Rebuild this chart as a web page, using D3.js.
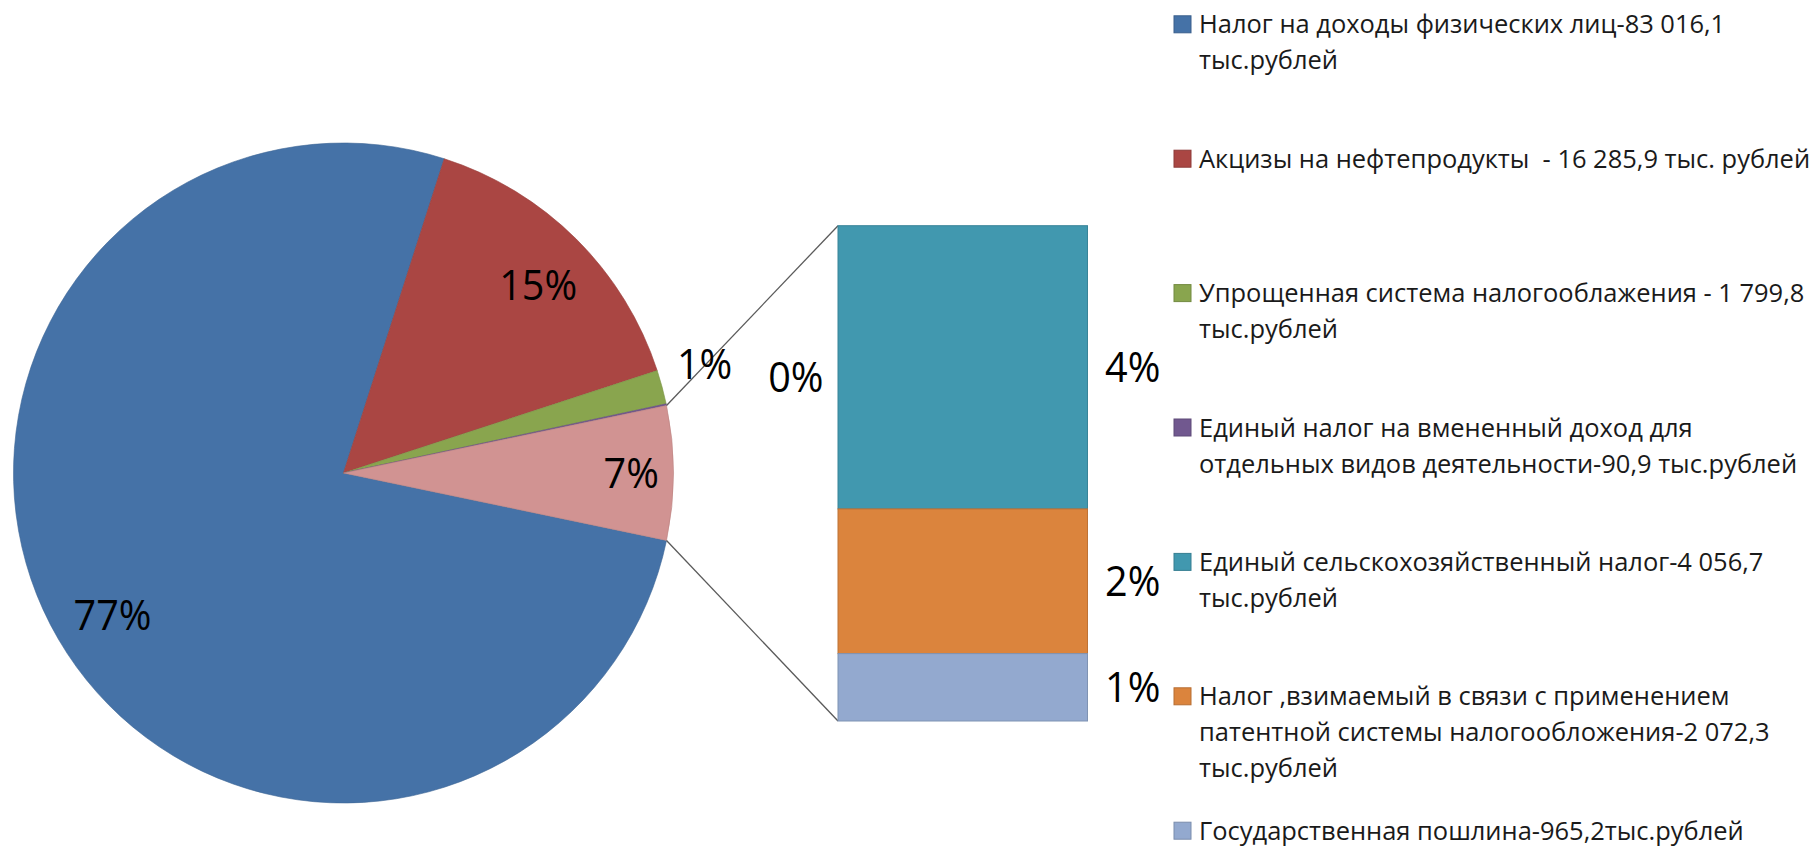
<!DOCTYPE html>
<html><head><meta charset="utf-8">
<script src="https://cdn.jsdelivr.net/npm/d3@7"></script>
<style>
html,body{margin:0;padding:0;background:#fff;overflow:hidden;}
svg{display:block;}
text{font-family:"Open Sans","Noto Sans",sans-serif;}
</style>
</head><body>
<svg id="chart" width="1813" height="848"></svg>
<script>
// ---- data ----
const categories = [
  "Налог на доходы физических лиц",
  "Акцизы на нефтепродукты",
  "Упрощенная система налогооблажения",
  "Единый налог на вмененный доход",
  "Единый сельскохозяйственный налог",
  "Налог, взимаемый в связи с применением патентной системы",
  "Государственная пошлина"
];
const legendLines = [
  ["Налог на доходы физических лиц-83 016,1", "тыс.рублей"],
  ["Акцизы на нефтепродукты  - 16 285,9 тыс. рублей"],
  ["Упрощенная система налогооблажения - 1 799,8", "тыс.рублей"],
  ["Единый налог на вмененный доход для", "отдельных видов деятельности-90,9 тыс.рублей"],
  ["Единый сельскохозяйственный налог-4 056,7", "тыс.рублей"],
  ["Налог ,взимаемый в связи с применением", "патентной системы налогообложения-2 072,3", "тыс.рублей"],
  ["Государственная пошлина-965,2тыс.рублей"]
];
const values = [83016.1, 16285.9, 1799.8, 90.9, 4056.7, 2072.3, 965.2];
const colors = ["#4572A7", "#AA4643", "#89A54E", "#71588F", "#4198AF", "#DB843D", "#93A9CF"];
const otherColor = "#D19392";
const barCount = 3; // last three values go into the secondary bar
const pieLabels = ["77%", "15%", "1%", "0%", "7%"];
const barLabels = ["4%", "2%", "1%"];

// ---- layout ----
const W = 1813, H = 848;
const cx = 343.5, cy = 473, R = 330;
const barLeft = 838, barRight = 1087.5, barTop = 225.7, barBottom = 721;
const labelSize = 42, legendSize = 25.5;
const legendX = 1174, legendMarker = 17, legendTextX = 1199;
const legendBase0 = 33.3, legendStep = 134.4, legendLineH = 36;
// radius factor / angle nudge (deg) for each pie label
const pieLabelLayout = [
  {k: 0.822, da: -1.4}, {k: 0.82, da: 1.15}, {k: 1.143, da: -1.7},
  {k: 1.401, da: 0}, {k: 0.872, da: 0}
];

const svg = d3.select("#chart");

const mainVals = values.slice(0, values.length - barCount);
const barVals = values.slice(values.length - barCount);
const otherSum = d3.sum(barVals);
const total = d3.sum(values);
const pieData = mainVals.map((v, i) => ({value: v, color: colors[i], label: pieLabels[i]}))
  .concat([{value: otherSum, color: otherColor, label: pieLabels[pieLabels.length - 1]}]);

const otherAngle = 2 * Math.PI * otherSum / total;
const a0 = Math.PI / 2 + otherAngle / 2;
const pie = d3.pie().sort(null).value(d => d.value).startAngle(a0).endAngle(a0 + 2 * Math.PI);
const arcs = pie(pieData);
const arc = d3.arc().innerRadius(0).outerRadius(R);

const gPie = svg.append("g").attr("transform", `translate(${cx},${cy})`);
gPie.selectAll("path.slice").data(arcs).join("path")
  .attr("class", "slice")
  .attr("d", arc)
  .attr("fill", d => d.data.color)
  .attr("stroke", d => d3.color(d.data.color).darker(0.3))
  .attr("stroke-width", 0.6);

// connector lines
const otherArc = arcs[arcs.length - 1];
const pt = a => [cx + R * Math.sin(a), cy - R * Math.cos(a)];
const pTop = pt(otherArc.startAngle), pBot = pt(otherArc.endAngle);

// bar
const yBar = d3.scaleLinear().domain([0, otherSum]).range([barTop, barBottom]);
const xBar = d3.scaleBand().domain(["other"]).range([barLeft, barRight]).padding(0);
let cum = 0;
const barData = barVals.map((v, i) => {
  const d = {y0: cum, y1: cum + v, color: colors[values.length - barCount + i], label: barLabels[i]};
  cum += v; return d;
});

svg.append("line").attr("x1", pTop[0]).attr("y1", pTop[1]).attr("x2", xBar("other")).attr("y2", yBar(0))
  .attr("stroke", "#5a5a5a").attr("stroke-width", 1.3);
svg.append("line").attr("x1", pBot[0]).attr("y1", pBot[1]).attr("x2", xBar("other")).attr("y2", yBar(otherSum))
  .attr("stroke", "#5a5a5a").attr("stroke-width", 1.3);

svg.append("g").selectAll("rect").data(barData).join("rect")
  .attr("x", xBar("other")).attr("width", xBar.bandwidth())
  .attr("y", d => yBar(d.y0)).attr("height", d => yBar(d.y1) - yBar(d.y0))
  .attr("fill", d => d.color)
  .attr("stroke", d => d3.color(d.color).darker(0.4)).attr("stroke-width", 1);

// ---- labels ----
const capH = labelSize * 0.714;
const probe = svg.append("text").attr("font-size", labelSize).text("77%");
const sxLabel = 78 / probe.node().getComputedTextLength();
probe.remove();

const gLab = svg.append("g");
arcs.forEach((d, i) => {
  const lay = pieLabelLayout[i];
  const a = (d.startAngle + d.endAngle) / 2 + lay.da * Math.PI / 180;
  const r = R * lay.k;
  const x = cx + r * Math.sin(a), y = cy - r * Math.cos(a) + capH / 2;
  gLab.append("text").attr("transform", `translate(${x},${y}) scale(${sxLabel},1)`)
    .attr("text-anchor", "middle").attr("font-size", labelSize).attr("fill", "#000")
    .text(d.data.label);
});
barData.forEach(d => {
  const y = (yBar(d.y0) + yBar(d.y1)) / 2 + capH / 2;
  const x = xBar("other") + xBar.bandwidth() + 17.5;
  gLab.append("text").attr("transform", `translate(${x},${y}) scale(${sxLabel},1)`)
    .attr("text-anchor", "start").attr("font-size", labelSize).attr("fill", "#000")
    .text(d.label);
});

// ---- legend ----
const probe2 = svg.append("text").attr("font-size", legendSize).text("Акцизы на нефтепродукты - 16 285,9 тыс. рублей");
const sxLeg = 605 / probe2.node().getComputedTextLength();
probe2.remove();

const gLeg = svg.append("g");
legendLines.forEach((lines, i) => {
  const base = legendBase0 + i * legendStep;
  gLeg.append("rect")
    .attr("x", legendX).attr("y", base - 9 - legendMarker / 2)
    .attr("width", legendMarker).attr("height", legendMarker)
    .attr("fill", colors[i]).attr("stroke", d3.color(colors[i]).darker(0.5)).attr("stroke-width", 1);
  lines.forEach((ln, j) => {
    gLeg.append("text")
      .attr("transform", `translate(${legendTextX},${base + j * legendLineH}) scale(${sxLeg},1)`)
      .attr("font-size", legendSize).attr("fill", "#1a1a1a")
      .attr("xml:space", "preserve")
      .text(ln);
  });
});
</script>
</body></html>
